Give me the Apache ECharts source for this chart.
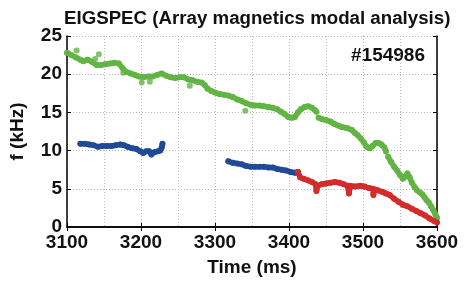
<!DOCTYPE html>
<html>
<head>
<meta charset="utf-8">
<script src="https://cdn.jsdelivr.net/npm/echarts@6/dist/echarts.min.js"></script>
<style>
    html, body { margin: 0; padding: 0; background: #fff; }
    #chart { width: 468px; height: 289px; }
</style>
</head>
<body>
<div id="chart"></div>
<script>
// [time (ms), frequency (kHz)]; '-' breaks the trace
const greenMode = [
    [3100, 22.8], [3106, 22.5], [3112, 22.2], [3118, 21.9], [3122, 21.7], [3128, 21.9],
    [3134, 21.6], [3140, 21.2], [3146, 21.2], [3152, 21.3], [3158, 21.4], [3164, 21.5],
    [3170, 21.4], [3175, 20.8], [3180, 20.3], [3186, 20.1], [3192, 19.9], [3197, 19.7],
    [3203, 19.6], [3210, 19.7], [3216, 19.7], [3222, 19.9], [3228, 20.1], [3234, 19.8],
    [3240, 19.6], [3246, 19.5], [3252, 19.6], [3258, 19.6], [3264, 19.3], [3270, 19.2],
    [3276, 19.0], [3282, 18.9], [3286, 18.6], [3290, 18.1], [3295, 17.8], [3300, 17.6],
    [3306, 17.4], [3312, 17.3], [3318, 17.2], [3324, 17.0], [3330, 16.7], [3336, 16.5],
    [3342, 16.2], [3348, 16.0], [3354, 15.9], [3360, 15.9], [3366, 15.8], [3372, 15.7],
    [3378, 15.6], [3384, 15.4], [3389, 15.1], [3394, 14.8], [3399, 14.4], [3404, 14.3],
    [3408, 14.4], [3412, 15.0], [3416, 15.4], [3421, 15.7], [3426, 15.8], [3431, 15.6],
    [3435, 15.3], [3437, 15.1], [3438, '-'],
    [3440, 14.3], [3445, 14.1], [3450, 14.0], [3456, 13.8], [3461, 13.5], [3466, 13.3],
    [3471, 13.1], [3476, 13.0], [3480, 12.9], [3485, 12.7], [3489, 12.3], [3493, 12.0],
    [3497, 11.6], [3501, 11.1], [3505, 10.5], [3509, 10.3], [3513, 10.6], [3517, 11.0],
    [3521, 11.0], [3525, 10.8], [3529, 10.4], [3531, 9.9], [3532, '-'],
    [3534, 9.2], [3538, 8.5], [3542, 7.9], [3546, 7.4], [3550, 6.8], [3554, 6.3],
    [3557, 6.6], [3560, 7.0], [3563, 6.5], [3566, 5.8], [3570, 5.2], [3573, 4.8],
    [3577, 4.5], [3580, 4.3], [3583, 3.9], [3586, 3.5], [3589, 3.2], [3592, 2.7],
    [3595, 2.2], [3598, 1.6], [3600, 1.2]
];
const greenStray = [
    [3113, 23.1], [3138, 22.0], [3143, 22.6], [3176, 20.2], [3201, 18.9],
    [3212, 19.0], [3266, 18.5], [3341, 15.2]
];
const blueEarly = [
    [3118, 10.9], [3124, 10.9], [3130, 10.8], [3136, 10.7], [3142, 10.5], [3148, 10.6],
    [3154, 10.6], [3160, 10.6], [3166, 10.7], [3172, 10.8], [3177, 10.7], [3182, 10.5],
    [3188, 10.3], [3194, 10.2], [3199, 9.9], [3203, 9.7], [3207, 9.9], [3211, 9.9],
    [3214, 9.5], [3218, 9.8], [3223, 9.9], [3226, 10.0], [3228, 10.4], [3229, 10.9]
];
const blueLate = [
    [3318, 8.6], [3324, 8.4], [3330, 8.3], [3336, 8.2], [3342, 8.0], [3348, 7.9],
    [3354, 7.9], [3360, 7.9], [3366, 7.9], [3372, 7.8], [3378, 7.8], [3384, 7.6],
    [3390, 7.5], [3396, 7.4], [3402, 7.2], [3408, 7.1], [3412, 7.2]
];
const redMode = [
    [3412, 7.2], [3415, 6.5], [3420, 6.3], [3426, 6.1], [3431, 5.9], [3436, 5.6],
    [3437, 4.7], [3439, 5.4], [3444, 5.6], [3450, 5.7], [3456, 5.8], [3462, 5.9],
    [3468, 5.8], [3474, 5.6], [3479, 5.4], [3481, 4.4], [3483, 5.4], [3490, 5.3],
    [3496, 5.4], [3502, 5.3], [3508, 5.1], [3513, 5.0], [3514, 4.2], [3516, 4.9],
    [3520, 4.8], [3526, 4.6], [3531, 4.4], [3536, 4.2], [3542, 3.7], [3548, 3.3],
    [3554, 2.9], [3560, 2.7], [3566, 2.4], [3572, 2.1], [3578, 1.8], [3584, 1.5],
    [3590, 1.1], [3596, 0.8], [3600, 0.6]
];

const shotLabel = '#154986';
const GREEN = '#62b444';
const BLUE = '#1f4a98';
const RED = '#d42b2b';
const FONT = 'Liberation Sans, Arial, sans-serif';

function trace(data, color) {
    return {
        type: 'line',
        data: data,
        symbol: 'circle',
        symbolSize: 6,
        showSymbol: true,
        itemStyle: { color: color },
        lineStyle: { color: color, width: 5.5, cap: 'round', join: 'round' },
        connectNulls: false,
        animation: false,
        z: 3,
    };
}

const chart = echarts.init(document.getElementById('chart'));
const dotted = { color: '#b8b8b8', type: [1, 2], width: 1 };

chart.setOption({
    animation: false,
    title: {
        text: 'EIGSPEC (Array magnetics modal analysis)',
        left: 59,
        top: 4,
        textStyle: { fontFamily: FONT, fontWeight: 'bold', fontSize: 18.7, color: '#111' },
    },
    graphic: [
        {
            type: 'text',
            right: 43,
            top: 46,
            style: { text: shotLabel, font: 'bold 19px ' + FONT, fill: '#111' },
        },
    ],
    grid: { left: 67, right: 31, top: 36, bottom: 62 },
    xAxis: [
        {
            type: 'value',
            min: 3100,
            max: 3600,
            interval: 100,
            name: 'Time (ms)',
            nameLocation: 'middle',
            nameGap: 31,
            nameTextStyle: { fontFamily: FONT, fontWeight: 'bold', fontSize: 19, color: '#111' },
            axisLine: { lineStyle: { color: '#000', width: 1.5 } },
            axisTick: { inside: true, length: 4, lineStyle: { color: '#000' } },
            axisLabel: {
                fontFamily: FONT, fontWeight: 'bold', fontSize: 19, color: '#111', margin: 6,
                formatter: (v) => String(v),
            },
            splitLine: { show: true, lineStyle: dotted },
            minorTick: { show: false, splitNumber: 2 },
            minorSplitLine: { show: true, lineStyle: dotted },
        },
        {
            type: 'value',
            position: 'top',
            min: 3100,
            max: 3600,
            interval: 100,
            axisLine: { lineStyle: { color: '#000', width: 1.5 } },
            axisTick: { inside: true, length: 4, lineStyle: { color: '#000' } },
            axisLabel: { show: false },
            splitLine: { show: false },
        },
    ],
    yAxis: [
        {
            type: 'value',
            min: 0,
            max: 25,
            interval: 5,
            name: 'f (kHz)',
            nameLocation: 'middle',
            nameGap: 40,
            nameTextStyle: { fontFamily: FONT, fontWeight: 'bold', fontSize: 19, color: '#111' },
            axisLine: { show: true, lineStyle: { color: '#000', width: 1.5 } },
            axisTick: { show: true, inside: true, length: 4, lineStyle: { color: '#000' } },
            axisLabel: { fontFamily: FONT, fontWeight: 'bold', fontSize: 19, color: '#111', margin: 5 },
            splitLine: { show: true, lineStyle: dotted },
        },
        {
            type: 'value',
            position: 'right',
            min: 0,
            max: 25,
            interval: 5,
            axisLine: { show: true, lineStyle: { color: '#000', width: 1.5 } },
            axisTick: { show: true, inside: true, length: 4, lineStyle: { color: '#000' } },
            axisLabel: { show: false },
            splitLine: { show: false },
        },
    ],
    series: [
        trace(greenMode, GREEN),
        {
            type: 'scatter',
            data: greenStray,
            symbolSize: 6,
            itemStyle: { color: GREEN },
            z: 3,
        },
        trace(blueEarly, BLUE),
        trace(blueLate, BLUE),
        trace(redMode, RED),
    ],
});
</script>
</body>
</html>
